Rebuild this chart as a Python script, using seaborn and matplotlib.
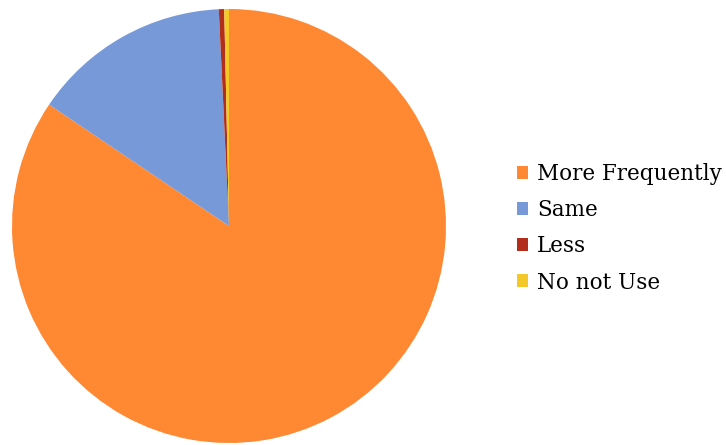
import matplotlib
matplotlib.use("Agg")
import matplotlib.pyplot as plt
import seaborn as sns

sns.set_theme(style="white")
plt.rcParams['font.family'] = ['DejaVu Serif', 'Liberation Serif']

categories = ["More Frequently", "Same", "Less", "No not Use"]
values = [84.45, 14.8, 0.4, 0.35]
colors = ["#FF8833", "#7799D8", "#B22D1A", "#F5C829"]

fig = plt.figure(figsize=(7.26, 4.45), dpi=100)
ax = fig.add_axes([12/726, 2/445, 434/726, 434/445])
wedges, _ = ax.pie(values, colors=colors, startangle=90, counterclock=False,
                   wedgeprops=dict(linewidth=0))
ax.set_xlim(-1, 1)
ax.set_ylim(-1, 1)
ax.set_aspect("equal")
leg = fig.legend(wedges, categories, loc="center left", bbox_to_anchor=(508/726, 0.487),
                 frameon=False, fontsize=15.5, handlelength=0.55, handleheight=0.55,
                 handletextpad=0.4, labelspacing=0.66, borderaxespad=0,
                 labelcolor="black")
fig.savefig("out.png", dpi=100)
